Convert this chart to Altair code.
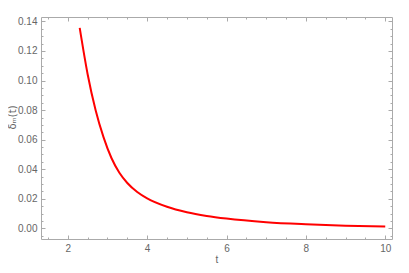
import altair as alt
import pandas as pd

# curve values
t_vals = [2.3, 2.5, 2.7, 2.9, 3.1, 3.3, 3.5, 3.75, 4.0, 4.5, 5.0, 5.5, 6.0,
          7.0, 8.0, 9.0, 10.0]
d_vals = [0.1357, 0.1043, 0.0801, 0.0617, 0.0476, 0.0376, 0.0307, 0.0246,
          0.0203, 0.0146, 0.0109, 0.0084, 0.0066, 0.0042, 0.0028, 0.0018,
          0.0012]

x_major = [2, 4, 6, 8, 10]
x_minor = [1.5, 2.5, 3, 3.5, 4.5, 5, 5.5, 6.5, 7, 7.5, 8.5, 9, 9.5]
y_major = [0.0, 0.02, 0.04, 0.06, 0.08, 0.10, 0.12, 0.14]
y_minor = [-0.005, 0.005, 0.01, 0.015, 0.025, 0.03, 0.035, 0.045, 0.05, 0.055,
           0.065, 0.07, 0.075, 0.085, 0.09, 0.095, 0.105, 0.11, 0.115,
           0.125, 0.13, 0.135]

df = pd.DataFrame({"t": t_vals, "d": d_vals})

FRAME = "#aaaaaa"
TXT = "#666666"
FONT = "Liberation Sans"

xs = alt.Scale(domain=[1.325, 10.17], nice=False, zero=False)
ys = alt.Scale(domain=[-0.0072, 0.143], nice=False, zero=False)


def ax(orient, values, size, labels, title=None, fmt=None, **kw):
    args = dict(orient=orient, values=values, tickSize=size, offset=-size,
                domain=False, grid=False, labels=labels, tickColor=FRAME,
                tickWidth=1, labelColor=TXT, labelFont=FONT, labelFontSize=10,
                titleColor=TXT, titleFont=FONT, titleFontSize=10,
                titleFontWeight="normal", title=title)
    if fmt:
        args["format"] = fmt
    args.update(kw)
    return alt.Axis(**args)


def layer(xaxis, yaxis, opacity):
    return alt.Chart(df).mark_line(
        color="#ff0000", strokeWidth=2, interpolate="monotone", opacity=opacity
    ).encode(
        x=alt.X("t:Q", scale=xs, axis=xaxis),
        y=alt.Y("d:Q", scale=ys, axis=yaxis),
    )


main = layer(
    ax("bottom", x_major, 4, True, title="t", fmt="d", labelPadding=4,
       titlePadding=1),
    ax("left", y_major, 4, True, title="δₘ(t)", fmt=".2f", labelPadding=4,
       titlePadding=0, titleFont="DejaVu Sans", titleY=100),
    1,
)
minor_bl = layer(ax("bottom", x_minor, 2, False), ax("left", y_minor, 2, False), 0)
major_tr = layer(ax("top", x_major, 4, False), ax("right", y_major, 4, False), 0)
minor_tr = layer(ax("top", x_minor, 2, False), ax("right", y_minor, 2, False), 0)

chart = alt.layer(main, minor_bl, major_tr, minor_tr).resolve_axis(
    x="independent", y="independent"
).properties(
    width=351, height=222,
    autosize=alt.AutoSizeParams(type="none"),
    padding={"left": 33, "top": 9, "right": 9, "bottom": 26},
).configure_view(stroke=FRAME, strokeWidth=1)

chart.save("out.html", embed_options={"renderer": "svg", "actions": False})
